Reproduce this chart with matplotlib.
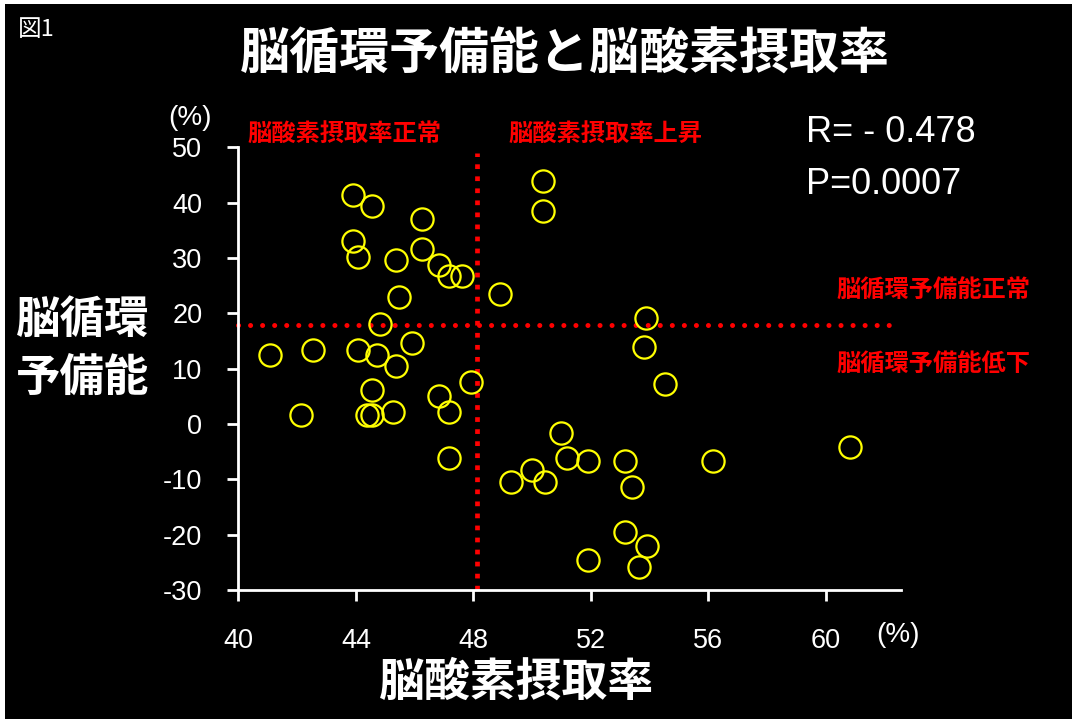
import matplotlib
matplotlib.use('Agg')
import matplotlib.pyplot as plt
import matplotlib.patches as patch

plt.rcParams['axes.unicode_minus'] = False

# data
oer = [43.90, 44.54, 50.36, 50.36, 46.26, 43.90, 44.08, 45.36, 46.26, 46.82,
       47.17, 47.62, 48.91, 45.46, 44.81, 53.88, 53.81, 54.53, 41.09, 42.54,
       44.08, 44.72, 45.90, 45.36, 47.91, 44.54, 46.82, 47.17, 42.12, 44.37,
       44.54, 45.26, 47.17, 50.98, 51.18, 51.89, 53.17, 49.99, 49.27, 50.45,
       53.39, 56.17, 60.82, 53.17, 53.90, 51.89, 53.63]
cvr = [41.3, 39.4, 43.9, 38.5, 37.0, 33.0, 30.1, 29.7, 31.6, 28.7,
       26.8, 26.8, 23.4, 23.0, 18.1, 19.1, 13.9, 7.2, 12.5, 13.3,
       13.3, 12.5, 14.7, 10.4, 7.5, 6.1, 5.1, 2.1, 1.7, 1.7,
       1.7, 2.1, -6.1, -1.7, -6.1, -6.6, -6.6, -8.4, -10.4, -10.4,
       -11.4, -6.6, -4.2, -19.6, -22.0, -24.5, -25.9]

oer_cut = 48.12
cvr_cut = 17.8
vline_y = [-30, 49]
hline_x = [40, 62.2]

xticks = [40, 44, 48, 52, 56, 60]
yticks = [-30, -20, -10, 0, 10, 20, 30, 40, 50]

title = '脳循環予備能と脳酸素摂取率'
xlabel = '脳酸素摂取率'
ylabel = ['脳循環', '予備能']
zone_labels = ['脳酸素摂取率正常', '脳酸素摂取率上昇', '脳循環予備能正常', '脳循環予備能低下']
stats = ['R= - 0.478', 'P=0.0007']

W, H = 1072, 719
jp = ['Noto Sans CJK JP', 'DejaVu Sans']
narrow = ['Liberation Sans Narrow', 'Liberation Sans', 'DejaVu Sans']


def px(x, y):
    return x / W, 1 - y / H


fig = plt.figure(figsize=(W / 100, H / 100), dpi=100, facecolor='white')
fig.patches.append(patch.Rectangle((5 / W, 0), 1, 1 - 4 / H, transform=fig.transFigure,
                                   facecolor='black', edgecolor='none', zorder=-5))

ax = fig.add_axes([238.4 / W, 129 / H, (901 - 238.4) / W, (590 - 147.3) / H])
ax.set_facecolor('black')
ax.set_xlim(40, 62.56)
ax.set_ylim(-30, 50)

for s in ['top', 'right']:
    ax.spines[s].set_visible(False)
for s in ['left', 'bottom']:
    ax.spines[s].set_color('white')
    ax.spines[s].set_linewidth(2)

ax.set_xticks(xticks)
ax.set_yticks(yticks)
ax.tick_params(colors='white', width=2, length=8, direction='out')
ax.tick_params(axis='x', pad=19)
ax.tick_params(axis='y', pad=18)
for lab in ax.get_xticklabels() + ax.get_yticklabels():
    lab.set_family(narrow)
    lab.set_fontsize(19.5)
    lab.set_color('white')

# threshold lines
ax.plot([oer_cut, oer_cut], vline_y, color='red', lw=3.4,
        linestyle=(0, (1, 1.55)), clip_on=False, zorder=2)
ax.plot(hline_x, [cvr_cut, cvr_cut], color='red', lw=3.6,
        linestyle=(0, (0.01, 2.4)), dash_capstyle='round', clip_on=False, zorder=2)

ax.plot(oer, cvr, linestyle='none', marker='o', ms=16, mfc='none',
        mec='yellow', mew=1.6, clip_on=False, zorder=3)

# texts
fig.text(*px(18, 29), '図1', family=jp, fontsize=17, color='white', va='center', ha='left')
fig.text(*px(565, 55), title, family=jp, fontsize=36, weight='bold', color='white',
         va='center', ha='center')
fig.text(*px(83, 320), ylabel[0], family=jp, fontsize=32, weight='bold', color='white',
         va='center', ha='center')
fig.text(*px(83, 378), ylabel[1], family=jp, fontsize=32, weight='bold', color='white',
         va='center', ha='center')
fig.text(*px(517, 683), xlabel, family=jp, fontsize=33, weight='bold', color='white',
         va='center', ha='center')

fig.text(*px(190, 118), '(%)', family=narrow, fontsize=20, color='white', va='center', ha='center')
fig.text(*px(898, 635), '(%)', family=narrow, fontsize=20, color='white', va='center', ha='center')

zone_pos = [(247, 134), (508, 134), (836, 290), (836, 364)]
for (x, y), t in zip(zone_pos, zone_labels):
    fig.text(*px(x, y), t, family=jp, fontsize=17.5, weight='bold', color='red',
             va='center', ha='left')

fig.text(*px(806, 133), stats[0], family=narrow, fontsize=26, color='white', va='center', ha='left')
fig.text(*px(806, 185), stats[1], family=narrow, fontsize=26, color='white', va='center', ha='left')

fig.savefig('out.png', dpi=100, facecolor=fig.get_facecolor())
